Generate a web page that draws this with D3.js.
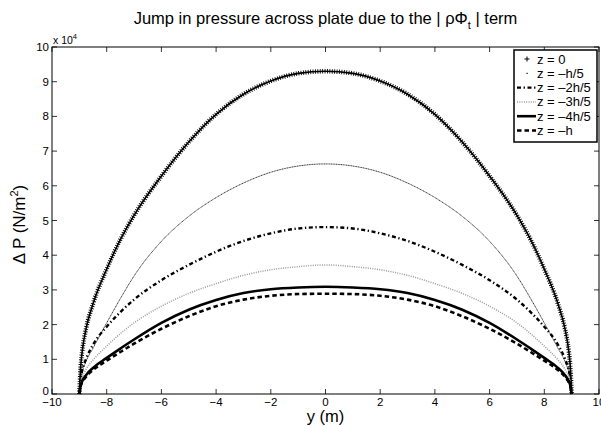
<!DOCTYPE html>
<html>
<head>
<meta charset="utf-8">
<script src="https://cdn.jsdelivr.net/npm/d3@7/dist/d3.min.js"></script>
<style>
body { margin: 0; background: #fff; }
text { font-family: "Liberation Sans", Arial, sans-serif; fill: #000; }
</style>
</head>
<body>
<div id="chart"></div>
<script>
// span positions (m) and pressure jump (x 10^4 N/m^2)
var yPos = [-9, -8.95, -8.9, -8.75, -8.5, -8, -7.5, -7, -6, -5, -4, -3, -2, -1, 0,
            1, 2, 3, 4, 5, 6, 7, 7.5, 8, 8.5, 8.75, 8.9, 8.95, 9];
var z0   = [0, 0.8, 1.2, 1.9, 2.6, 3.6, 4.45, 5.15, 6.28, 7.26, 8.06, 8.64, 9.02, 9.24, 9.3,
            9.24, 9.02, 8.64, 8.06, 7.26, 6.28, 5.15, 4.45, 3.6, 2.6, 1.9, 1.2, 0.8, 0];
var zH5  = [0, 0.44, 0.62, 0.95, 1.32, 2.05, 2.75, 3.4, 4.4, 5.12, 5.66, 6.08, 6.39, 6.57, 6.63,
            6.57, 6.39, 6.08, 5.66, 5.12, 4.4, 3.4, 2.75, 2.05, 1.32, 0.95, 0.62, 0.44, 0];
var z2H5 = [0, 0.47, 0.66, 1.02, 1.42, 1.94, 2.36, 2.72, 3.28, 3.72, 4.1, 4.41, 4.63, 4.77, 4.81,
            4.77, 4.63, 4.41, 4.1, 3.72, 3.28, 2.72, 2.36, 1.94, 1.42, 1.02, 0.66, 0.47, 0];
var z3H5 = [0, 0.33, 0.46, 0.72, 0.98, 1.38, 1.74, 2.05, 2.53, 2.9, 3.18, 3.42, 3.58, 3.67, 3.72,
            3.67, 3.58, 3.42, 3.18, 2.9, 2.53, 2.05, 1.74, 1.38, 0.98, 0.72, 0.46, 0.33, 0];
var z4H5 = [0, 0.25, 0.36, 0.55, 0.75, 1.04, 1.31, 1.57, 2.05, 2.43, 2.71, 2.91, 3.02, 3.07, 3.09,
            3.07, 3.02, 2.91, 2.71, 2.43, 2.05, 1.57, 1.31, 1.04, 0.75, 0.55, 0.36, 0.25, 0];
var zH   = [0, 0.23, 0.33, 0.5, 0.69, 0.96, 1.21, 1.45, 1.88, 2.24, 2.53, 2.72, 2.83, 2.88, 2.89,
            2.88, 2.83, 2.72, 2.53, 2.24, 1.88, 1.45, 1.21, 0.96, 0.69, 0.5, 0.33, 0.23, 0];

var seriesNames = ["z = 0", "z = \u2013h/5", "z = \u20132h/5", "z = \u20133h/5", "z = \u20134h/5", "z = \u2013h"];
var seriesVals = [z0, zH5, z2H5, z3H5, z4H5, zH];
var xTicks = [-10, -8, -6, -4, -2, 0, 2, 4, 6, 8, 10];
var yTicks = [0, 1, 2, 3, 4, 5, 6, 7, 8, 9, 10];

function drawChart() {
    var pLeft = 52, pRight = 599, pTop = 47, pBottom = 394;

    var svg = d3.select("#chart").append("svg")
        .attr("width", 601)
        .attr("height", 426);

    var x = d3.scaleLinear().domain([-10, 10]).range([pLeft, pRight]);
    var y = d3.scaleLinear().domain([0, 10]).range([pBottom, pTop]);

    var line = d3.line()
        .x(function(d) { return x(d[0]); })
        .y(function(d) { return y(d[1]); })
        .curve(d3.curveMonotoneX);

    function pts(vals) {
        return vals.map(function(v, i) { return [yPos[i], v]; });
    }

    // stroke layers per series
    var styles = [
        [{w: 1.6, c: "#000", dash: null}, {w: 4.5, c: "#000", dash: "0.9,1.5"}],
        [{w: 0.9, c: "#222", dash: "1.2,0.5"}],
        [{w: 2.4, c: "#000", dash: "4,2.6,1.3,2.6"}],
        [{w: 1.5, c: "#9a9a9a", dash: "1,1.3"}],
        [{w: 2.6, c: "#000", dash: null}],
        [{w: 2.6, c: "#000", dash: "4.5,3"}]
    ];

    var plot = svg.append("g");
    seriesVals.forEach(function(vals, i) {
        styles[i].forEach(function(s) {
            plot.append("path")
                .attr("d", line(pts(vals)))
                .attr("fill", "none")
                .attr("stroke", s.c)
                .attr("stroke-width", s.w)
                .attr("stroke-dasharray", s.dash);
        });
    });

    // ticks inward on all four sides
    var tickLen = 5;
    var tg = svg.append("g").attr("stroke", "#000").attr("stroke-width", 0.8);
    xTicks.forEach(function(t) {
        tg.append("line").attr("x1", x(t)).attr("x2", x(t)).attr("y1", pBottom).attr("y2", pBottom - tickLen);
        tg.append("line").attr("x1", x(t)).attr("x2", x(t)).attr("y1", pTop).attr("y2", pTop + tickLen);
    });
    yTicks.forEach(function(t) {
        tg.append("line").attr("x1", pLeft).attr("x2", pLeft + tickLen).attr("y1", y(t)).attr("y2", y(t));
        tg.append("line").attr("x1", pRight).attr("x2", pRight - tickLen).attr("y1", y(t)).attr("y2", y(t));
    });

    svg.append("rect")
        .attr("x", pLeft).attr("y", pTop)
        .attr("width", pRight - pLeft).attr("height", pBottom - pTop)
        .attr("fill", "none").attr("stroke", "#000").attr("stroke-width", 1);

    // tick labels
    svg.selectAll(".xl").data(xTicks).enter().append("text")
        .attr("x", function(d) { return x(d); })
        .attr("y", pBottom + 12)
        .attr("text-anchor", "middle")
        .attr("font-size", 11.5)
        .text(function(d) { return d < 0 ? "\u2212" + Math.abs(d) : d; });

    svg.selectAll(".yl").data(yTicks).enter().append("text")
        .attr("x", pLeft - 3)
        .attr("y", function(d) { return y(d) + (d === 0 ? 1 : 4); })
        .attr("text-anchor", "end")
        .attr("font-size", 11.5)
        .text(function(d) { return d; });

    var mult = svg.append("text").attr("x", pLeft + 1).attr("y", pTop - 3).attr("font-size", 10.5);
    mult.append("tspan").text("x 10");
    mult.append("tspan").attr("dy", -5).attr("font-size", 7.5).text("4");

    // axis labels
    svg.append("text")
        .attr("x", x(0)).attr("y", 422)
        .attr("text-anchor", "middle")
        .attr("font-size", 16.5)
        .text("y (m)");

    var yl = svg.append("text")
        .attr("transform", "translate(25," + ((pTop + pBottom) / 2 + 4) + ") rotate(-90)")
        .attr("text-anchor", "middle")
        .attr("font-size", 17);
    yl.append("tspan").text("\u0394 P (N/m");
    yl.append("tspan").attr("dy", -7).attr("font-size", 11).text("2");
    yl.append("tspan").attr("dy", 7).text(")");

    // title
    var title = svg.append("text")
        .attr("x", x(0)).attr("y", 24)
        .attr("text-anchor", "middle")
        .attr("font-size", 16.5);
    title.append("tspan").text("Jump in pressure across plate due to the | \u03c1\u03a6");
    title.append("tspan").attr("dy", 5).attr("font-size", 11).text("t");
    title.append("tspan").attr("dy", -5).text(" | term");

    // legend
    var lx = 514, ly = 50, lw = 83, lh = 92;
    var leg = svg.append("g");
    leg.append("rect")
        .attr("x", lx).attr("y", ly).attr("width", lw).attr("height", lh)
        .attr("fill", "#fff").attr("stroke", "#000").attr("stroke-width", 1.5);

    seriesNames.forEach(function(name, i) {
        var ry = ly + 9 + i * 14.3;
        var g = leg.append("g");
        if (i === 0) {
            g.append("path").attr("d", "M" + (lx + 10.5) + "," + ry + "h5M" + (lx + 13) + "," + (ry - 2.5) + "v5")
                .attr("stroke", "#000").attr("stroke-width", 1);
        } else if (i === 1) {
            g.append("rect").attr("x", lx + 12.5).attr("y", ry - 0.5).attr("width", 1.2).attr("height", 1.2).attr("fill", "#000");
        } else {
            styles[i].forEach(function(s) {
                g.append("line")
                    .attr("x1", lx + 3).attr("x2", lx + 22)
                    .attr("y1", ry).attr("y2", ry)
                    .attr("stroke", s.c)
                    .attr("stroke-width", s.w)
                    .attr("stroke-dasharray", s.dash);
            });
        }
        g.append("text")
            .attr("x", lx + 23).attr("y", ry + 4.5)
            .attr("font-size", 13)
            .text(name);
    });
}

drawChart();
</script>
</body>
</html>
